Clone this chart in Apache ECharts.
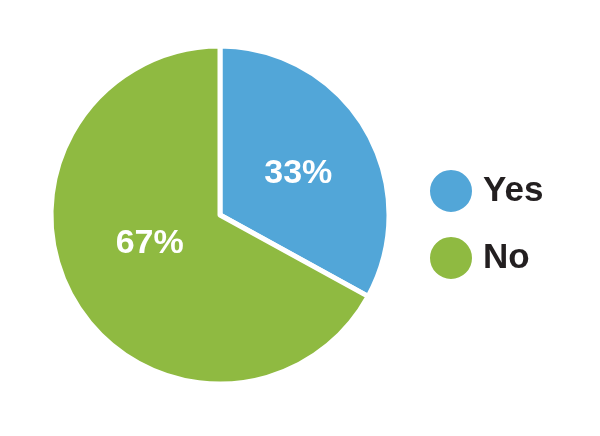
<!DOCTYPE html>
<html><head><meta charset="utf-8">
<script src="https://cdn.jsdelivr.net/npm/echarts@6/dist/echarts.min.js"></script>
<style>html,body{margin:0;padding:0;background:#fff}#c{width:600px;height:436px}</style>
</head><body><div id="c"></div>
<script>
const categories = ["Yes", "No"];
const values = [33, 67];
const colors = ["#52A6D8", "#8FBA41"];

const chart = echarts.init(document.getElementById('c'), null, {renderer: 'canvas'});
const labelFont = '"Liberation Sans", Arial, sans-serif';
chart.setOption({
  animation: false,
  backgroundColor: '#ffffff',
  legend: {
    orient: 'vertical',
    left: 428,
    top: 168,
    padding: 0,
    itemWidth: 44,
    itemHeight: 44,
    itemGap: 21,
    icon: 'circle',
    data: categories,
    textStyle: {
      fontFamily: labelFont,
      fontWeight: 'bold',
      fontSize: 35,
      color: '#231F20',
      padding: [0, 0, 0, 5]
    }
  },
  series: [{
    type: 'pie',
    center: [220, 215],
    radius: [0, 169],
    startAngle: 90,
    clockwise: true,
    itemStyle: { borderColor: '#ffffff', borderWidth: 5 },
    label: {
      position: 'inside',
      fontFamily: labelFont,
      fontWeight: 'bold',
      fontSize: 34,
      color: '#ffffff',
      rich: {
        v: { fontFamily: labelFont, fontWeight: 'bold', fontSize: 34, color: '#ffffff' },
        top: { height: 6, fontSize: 1 },
        bot: { height: 32, fontSize: 1 }
      }
    },
    labelLine: { show: false },
    emphasis: { disabled: true },
    data: [
      { name: categories[0], value: values[0], itemStyle: { color: colors[0] },
        label: { padding: [0, 0, 0, 6], formatter: p => '{top| }\n{v|' + p.value + '%}' } },
      { name: categories[1], value: values[1], itemStyle: { color: colors[1] },
        label: { padding: [0, 0, 0, 10], formatter: p => '{v|' + p.value + '%}\n{bot| }' } }
    ]
  }]
});
</script></body></html>
